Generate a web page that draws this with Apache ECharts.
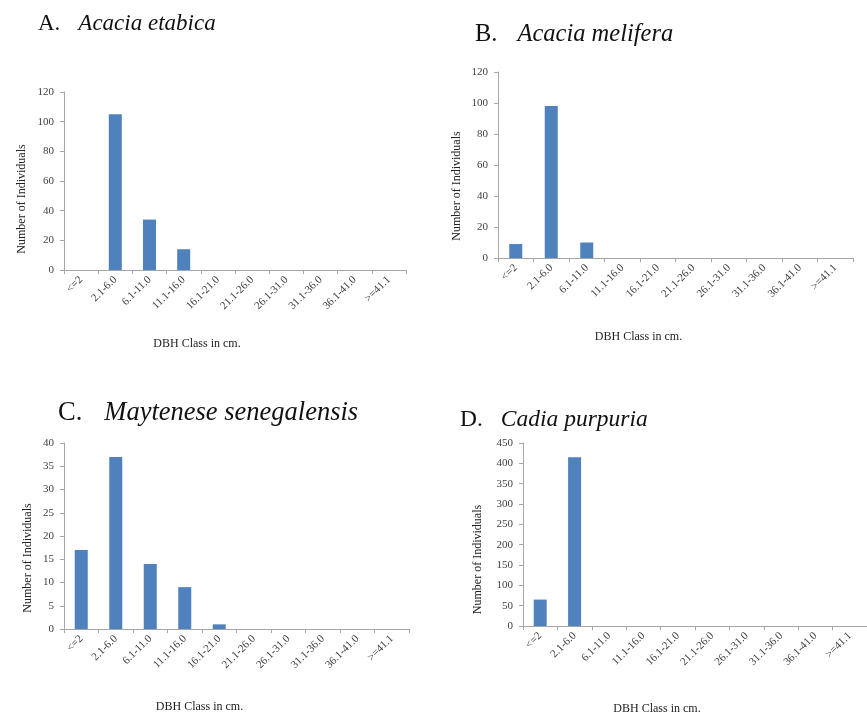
<!DOCTYPE html>
<html><head><meta charset="utf-8">
<script src="https://cdn.jsdelivr.net/npm/echarts@6/dist/echarts.min.js"></script>
<style>html,body{margin:0;padding:0;background:#fff}#c{width:867px;height:717px}</style>
</head><body><div id="c"></div>
<script>
const categories = ["<=2","2.1-6.0","6.1-11.0","11.1-16.0","16.1-21.0","21.1-26.0","26.1-31.0","31.1-36.0","36.1-41.0",">=41.1"];
const acaciaEtabica = [0,105,34,14,0,0,0,0,0,0];
const acaciaMelifera = [9,98,10,0,0,0,0,0,0,0];
const mayteneseSenegalensis = [17,37,14,9,1,0,0,0,0,0];
const cadiaPurpuria = [65,415,0,0,0,0,0,0,0,0];
const panelLetters = ["A.","B.","C.","D."];
const panelSpecies = ["Acacia etabica","Acacia melifera","Maytenese senegalensis","Cadia purpuria"];
const yMax = [120,120,40,450];
const yStep = [20,20,5,50];
const yAxisTitle = "Number of Individuals";
const xAxisTitle = "DBH Class in cm.";

const seriesData = [acaciaEtabica, acaciaMelifera, mayteneseSenegalensis, cadiaPurpuria];
const grids = [
  {left:64, top:92, width:342, height:178},
  {left:498, top:72, width:355, height:186},
  {left:64, top:443, width:345, height:186},
  {left:523, top:443, width:344, height:183}
];
const titlePos = [
  {left:33, top:7, fs:23, gap:18},
  {left:470, top:17, fs:24.5, gap:20},
  {left:53, top:395, fs:26.5, gap:22},
  {left:455, top:403, fs:23.5, gap:18}
];
const yNameGap = [36, 35, 30, 39];
const yNameShift = [36, 42, 44, 50];
const xNameGap = [68, 73, 72, 77];
const xNameShift = [76, 74, 74, 76];
const font = "'Liberation Serif','Times New Roman',serif";
const axisColor = '#A6A6A6';
const labelColor = '#404040';

const chart = echarts.init(document.getElementById('c'), null, {renderer:'canvas'});
chart.setOption({
  animation:false,
  textStyle:{fontFamily:font},
  title: panelLetters.map((l,i)=>({
    left:titlePos[i].left, top:titlePos[i].top,
    text:'{n|'+l+'}{g| }{s|'+panelSpecies[i]+'}',
    textStyle:{fontWeight:'normal', rich:{
      n:{fontFamily:font, fontSize:titlePos[i].fs, fontWeight:'normal', color:'#111'},
      g:{fontFamily:font, fontSize:titlePos[i].fs, width:titlePos[i].gap},
      s:{fontFamily:font, fontSize:titlePos[i].fs, fontWeight:'normal', fontStyle:'italic', color:'#111'}
    }}
  })),
  grid: grids,
  xAxis: grids.map((g,i)=>({
    type:'category', gridIndex:i, data:categories,
    boundaryGap:true,
    axisLine:{lineStyle:{color:axisColor, width:1}},
    axisTick:{show:true, alignWithLabel:false, length:4, lineStyle:{color:axisColor}},
    axisLabel:{rotate:45, interval:0, fontSize:11, color:labelColor, fontFamily:font, margin:8},
    name:xAxisTitle, nameLocation:'middle', nameGap:xNameGap[i],
    nameTextStyle:{fontSize:12, color:'#222', fontFamily:font, padding:[0, xNameShift[i], 0, 0]},
    splitLine:{show:false}
  })),
  yAxis: grids.map((g,i)=>({
    type:'value', gridIndex:i, min:0, max:yMax[i], interval:yStep[i],
    axisLine:{show:true, lineStyle:{color:axisColor, width:1}},
    axisTick:{show:true, length:4, lineStyle:{color:axisColor}},
    axisLabel:{fontSize:11, color:labelColor, fontFamily:font, margin:10},
    splitLine:{show:false},
    name:yAxisTitle, nameLocation:'middle', nameRotate:90, nameGap:yNameGap[i],
    nameTextStyle:{fontSize:12, color:'#222', fontFamily:font, padding:[0, yNameShift[i], 0, 0]}
  })),
  series: seriesData.map((d,i)=>({
    type:'bar', xAxisIndex:i, yAxisIndex:i, data:d, barWidth:13,
    itemStyle:{color:'#4F81BD'}
  }))
});
</script></body></html>
